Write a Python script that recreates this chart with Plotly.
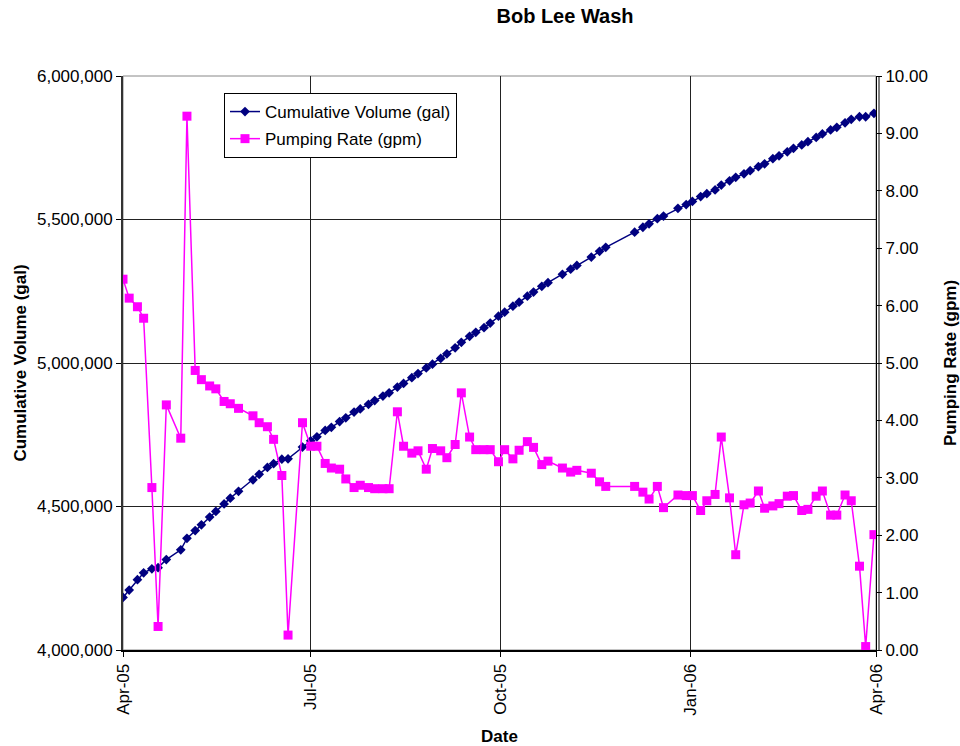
import plotly.graph_objects as go

# Sampling dates (Apr 2005 - Mar 2006)
dates = [
    "2005-04-01", "2005-04-04", "2005-04-08", "2005-04-11", "2005-04-15", "2005-04-18", "2005-04-22", "2005-04-29",
    "2005-05-02", "2005-05-06", "2005-05-09", "2005-05-13", "2005-05-16", "2005-05-20", "2005-05-23", "2005-05-27",
    "2005-06-03", "2005-06-06", "2005-06-10", "2005-06-13", "2005-06-17", "2005-06-20", "2005-06-27",
    "2005-07-01", "2005-07-04", "2005-07-08", "2005-07-11", "2005-07-15", "2005-07-18", "2005-07-22", "2005-07-25", "2005-07-29",
    "2005-08-01", "2005-08-05", "2005-08-08", "2005-08-12", "2005-08-15", "2005-08-19", "2005-08-22", "2005-08-26", "2005-08-29",
    "2005-09-02", "2005-09-05", "2005-09-09", "2005-09-12", "2005-09-16", "2005-09-19", "2005-09-23", "2005-09-26", "2005-09-30",
    "2005-10-03", "2005-10-07", "2005-10-10", "2005-10-14", "2005-10-17", "2005-10-21", "2005-10-24", "2005-10-31",
    "2005-11-04", "2005-11-07", "2005-11-14", "2005-11-18", "2005-11-21",
    "2005-12-05", "2005-12-09", "2005-12-12", "2005-12-16", "2005-12-19", "2005-12-26", "2005-12-30",
    "2006-01-02", "2006-01-06", "2006-01-09", "2006-01-13", "2006-01-16", "2006-01-20", "2006-01-23", "2006-01-27", "2006-01-30",
    "2006-02-03", "2006-02-06", "2006-02-10", "2006-02-13", "2006-02-17", "2006-02-20", "2006-02-24", "2006-02-27",
    "2006-03-03", "2006-03-06", "2006-03-10", "2006-03-13", "2006-03-17", "2006-03-20", "2006-03-24", "2006-03-27", "2006-03-31",
]

# Cumulative volume (gal)
cumulative_volume = [
    4183000, 4209000, 4245000, 4269000, 4283000, 4287000, 4315000, 4349000,
    4389000, 4416000, 4436000, 4463000, 4483000, 4509000, 4529000, 4553000,
    4593000, 4612000, 4636000, 4649000, 4665000, 4666000, 4707000,
    4729000, 4743000, 4765000, 4776000, 4796000, 4809000, 4829000, 4840000, 4856000,
    4869000, 4885000, 4896000, 4916000, 4929000, 4949000, 4963000, 4983000, 4996000,
    5016000, 5032000, 5053000, 5072000, 5093000, 5107000, 5123000, 5139000, 5163000,
    5177000, 5198000, 5212000, 5233000, 5247000, 5267000, 5280000, 5309000,
    5327000, 5340000, 5369000, 5389000, 5403000,
    5456000, 5473000, 5485000, 5503000, 5512000, 5539000, 5552000,
    5563000, 5580000, 5590000, 5603000, 5620000, 5635000, 5647000, 5659000, 5670000,
    5684000, 5694000, 5712000, 5722000, 5736000, 5748000, 5760000, 5771000,
    5786000, 5798000, 5812000, 5821000, 5837000, 5849000, 5858000, 5858000, 5870000,
]

# Pumping rate (gpm)
pumping_rate = [
    6.46, 6.13, 5.98, 5.78, 2.83, 0.41, 4.27, 3.69,
    9.30, 4.87, 4.71, 4.60, 4.55, 4.33, 4.29, 4.21,
    4.08, 3.96, 3.89, 3.67, 3.04, 0.26, 3.96,
    3.55, 3.55, 3.25, 3.17, 3.15, 2.98, 2.83, 2.87, 2.83,
    2.81, 2.81, 2.81, 4.15, 3.55, 3.43, 3.47, 3.15, 3.51,
    3.47, 3.35, 3.58, 4.48, 3.71, 3.49, 3.49, 3.49, 3.28,
    3.49, 3.33, 3.48, 3.63, 3.53, 3.23, 3.29, 3.17,
    3.10, 3.13, 3.08, 2.93, 2.85,
    2.85, 2.75, 2.63, 2.85, 2.48, 2.70, 2.69,
    2.69, 2.43, 2.60, 2.71, 3.71, 2.65, 1.66, 2.53, 2.56,
    2.77, 2.47, 2.51, 2.55, 2.68, 2.69, 2.43, 2.45,
    2.68, 2.77, 2.35, 2.35, 2.70, 2.60, 1.46, 0.06, 2.01,
]

x_ticks = ["2005-04-01", "2005-07-01", "2005-10-01", "2006-01-01", "2006-04-01"]
x_tick_labels = ["Apr-05", "Jul-05", "Oct-05", "Jan-06", "Apr-06"]

FONT = "Arial, Liberation Sans, sans-serif"
NAVY = "#000080"
MAGENTA = "#FF00FF"

fig = go.Figure()

fig.add_trace(go.Scatter(
    x=dates, y=cumulative_volume, name="Cumulative Volume (gal)",
    mode="lines+markers", yaxis="y", legendgroup="vol",
    line=dict(color=NAVY, width=1.5),
    marker=dict(symbol="diamond", size=7.5, color=NAVY),
))

fig.add_trace(go.Scatter(
    x=dates, y=pumping_rate, name="Pumping Rate (gpm)",
    mode="lines+markers", yaxis="y2", legendgroup="rate",
    line=dict(color=MAGENTA, width=1.5),
    marker=dict(symbol="square", size=9, color=MAGENTA),
))

fig.update_layout(
    width=960, height=746,
    margin=dict(l=123, r=84, t=76, b=96, autoexpand=False),
    paper_bgcolor="white", plot_bgcolor="white",
    font=dict(family=FONT, size=17, color="black"),
    title=dict(text="<b>Bob Lee Wash</b>", x=565 / 960, xanchor="center",
               y=1 - 16 / 746, yanchor="middle",
               font=dict(family=FONT, size=20, color="black")),
    showlegend=True,
    legend=dict(x=(224 - 123) / 753, y=(650 - 93) / 574, xanchor="left", yanchor="top",
                bgcolor="white", bordercolor="black", borderwidth=1,
                font=dict(family=FONT, size=17, color="black"),
                traceorder="grouped", tracegroupgap=2,
                entrywidth=205, entrywidthmode="pixels"),
    xaxis=dict(
        type="date", range=["2005-04-01", "2006-04-01"], automargin=False,
        tickmode="array", tickvals=x_ticks, ticktext=x_tick_labels,
        tickangle=-90, ticks="outside", ticklen=5, tickcolor="black",
        showgrid=True, gridcolor="#222222", gridwidth=1,
        showline=True, linecolor="black", linewidth=2,
        zeroline=False,
        title=dict(text="<b>Date</b>", font=dict(family=FONT, size=17), standoff=20),
    ),
    yaxis=dict(
        range=[4000000, 6000000], dtick=500000, tickformat=",d", automargin=False,
        ticks="outside", ticklen=5, tickcolor="black",
        showgrid=True, gridcolor="#222222", gridwidth=1,
        showline=True, linecolor="#333333", linewidth=2,
        zeroline=False,
        title=dict(text="<b>Cumulative Volume (gal)</b>", font=dict(family=FONT, size=17), standoff=6),
    ),
    yaxis2=dict(
        range=[0, 10], dtick=1, tickformat=".2f", automargin=False,
        overlaying="y", side="right",
        ticks="outside", ticklen=5, tickcolor="black",
        showgrid=False, showline=True, linecolor="black", linewidth=1,
        zeroline=False,
        title=dict(text="<b>Pumping Rate (gpm)</b>", font=dict(family=FONT, size=17), standoff=22),
    ),
    shapes=[
        # plot-area frame
        dict(type="rect", xref="paper", yref="paper", x0=0, x1=1, y0=0, y1=1,
             line=dict(color="#888888", width=1), layer="below"),
        # second rule of the right-hand axis
        dict(type="line", xref="paper", yref="paper", x0=1 + 3 / 753, x1=1 + 3 / 753, y0=0, y1=1,
             line=dict(color="black", width=1)),
    ],
)

fig.write_html("out.html")
